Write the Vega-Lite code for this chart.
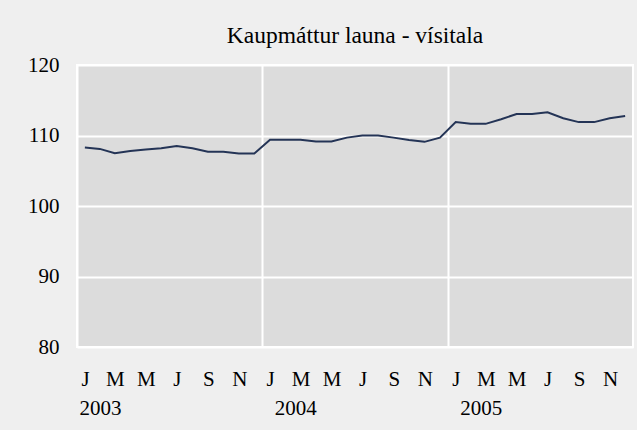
{
  "$schema": "https://vega.github.io/schema/vega-lite/v6.json",
  "autosize": {"type": "none"},
  "padding": {"left": 77, "top": 65, "right": 4, "bottom": 83},
  "width": 556,
  "height": 282,
  "background": "#efefef",
  "title": {
    "text": "Kaupmáttur launa - vísitala",
    "font": "Liberation Serif",
    "fontSize": 23.5,
    "fontWeight": "normal",
    "color": "#000000",
    "anchor": "middle",
    "baseline": "alphabetic",
    "offset": -12
  },
  "config": {
    "view": {"fill": "#dcdcdc", "stroke": "#ffffff", "strokeWidth": 2},
    "axis": {"labelFont": "Liberation Serif", "labelFontSize": 21, "labelColor": "#000000", "ticks": false, "domain": false, "title": null}
  },
  "data": {
    "values": [
      {"month": "2003-01", "value": 108.3},
      {"month": "2003-02", "value": 108.1},
      {"month": "2003-03", "value": 107.5},
      {"month": "2003-04", "value": 107.8},
      {"month": "2003-05", "value": 108.0},
      {"month": "2003-06", "value": 108.2},
      {"month": "2003-07", "value": 108.5},
      {"month": "2003-08", "value": 108.2},
      {"month": "2003-09", "value": 107.7},
      {"month": "2003-10", "value": 107.7},
      {"month": "2003-11", "value": 107.45},
      {"month": "2003-12", "value": 107.45},
      {"month": "2004-01", "value": 109.4},
      {"month": "2004-02", "value": 109.4},
      {"month": "2004-03", "value": 109.4},
      {"month": "2004-04", "value": 109.15},
      {"month": "2004-05", "value": 109.15},
      {"month": "2004-06", "value": 109.7},
      {"month": "2004-07", "value": 110.0},
      {"month": "2004-08", "value": 110.0},
      {"month": "2004-09", "value": 109.7},
      {"month": "2004-10", "value": 109.35},
      {"month": "2004-11", "value": 109.1},
      {"month": "2004-12", "value": 109.7},
      {"month": "2005-01", "value": 111.9},
      {"month": "2005-02", "value": 111.65},
      {"month": "2005-03", "value": 111.65},
      {"month": "2005-04", "value": 112.3},
      {"month": "2005-05", "value": 113.05},
      {"month": "2005-06", "value": 113.05},
      {"month": "2005-07", "value": 113.3},
      {"month": "2005-08", "value": 112.45},
      {"month": "2005-09", "value": 111.9},
      {"month": "2005-10", "value": 111.9},
      {"month": "2005-11", "value": 112.45},
      {"month": "2005-12", "value": 112.75}
    ]
  },
  "encoding": {
    "y": {
      "field": "value",
      "type": "quantitative",
      "scale": {"domain": [80, 120], "nice": false, "zero": false},
      "axis": {"values": [80, 90, 100, 110, 120], "grid": true, "gridColor": "#ffffff", "gridWidth": 2, "gridOpacity": 1, "labelPadding": 18}
    }
  },
  "layer": [
    {
      "mark": {"type": "point", "opacity": 0},
      "encoding": {
        "x": {
          "field": "month",
          "type": "temporal",
          "timeUnit": "utcyearmonth",
          "bandPosition": 0.5,
          "scale": {"domain": [{"year": 2003, "month": 1, "date": 1, "utc": true}, {"year": 2006, "month": 1, "date": 1, "utc": true}]},
          "axis": {
            "orient": "bottom",
            "values": [
              {"year": 2003, "month": 1, "date": 1, "utc": true},
              {"year": 2004, "month": 1, "date": 1, "utc": true},
              {"year": 2005, "month": 1, "date": 1, "utc": true}
            ],
            "grid": true,
            "gridColor": "#ffffff",
            "gridWidth": 2,
            "gridOpacity": 1,
            "labelExpr": "utcFormat(datum.value, '%Y')",
            "labelAlign": "left",
            "labelBaseline": "alphabetic",
            "labelPadding": 67,
            "labelOffset": {"condition": {"test": "utcyear(datum.value) == 2003", "value": 2}, "value": 12},
            "labelOverlap": false,
            "labelFlush": false
          }
        }
      }
    },
    {
      "mark": {"type": "line", "color": "#243456", "strokeWidth": 2},
      "encoding": {
        "x": {
          "field": "month",
          "type": "temporal",
          "timeUnit": "utcyearmonth",
          "bandPosition": 0.5,
          "axis": {
            "orient": "bottom",
            "values": [
              {"year": 2003, "month": 1, "date": 1, "utc": true},
              {"year": 2003, "month": 3, "date": 1, "utc": true},
              {"year": 2003, "month": 5, "date": 1, "utc": true},
              {"year": 2003, "month": 7, "date": 1, "utc": true},
              {"year": 2003, "month": 9, "date": 1, "utc": true},
              {"year": 2003, "month": 11, "date": 1, "utc": true},
              {"year": 2004, "month": 1, "date": 1, "utc": true},
              {"year": 2004, "month": 3, "date": 1, "utc": true},
              {"year": 2004, "month": 5, "date": 1, "utc": true},
              {"year": 2004, "month": 7, "date": 1, "utc": true},
              {"year": 2004, "month": 9, "date": 1, "utc": true},
              {"year": 2004, "month": 11, "date": 1, "utc": true},
              {"year": 2005, "month": 1, "date": 1, "utc": true},
              {"year": 2005, "month": 3, "date": 1, "utc": true},
              {"year": 2005, "month": 5, "date": 1, "utc": true},
              {"year": 2005, "month": 7, "date": 1, "utc": true},
              {"year": 2005, "month": 9, "date": 1, "utc": true},
              {"year": 2005, "month": 11, "date": 1, "utc": true}
            ],
            "grid": false,
            "labelExpr": "slice(utcFormat(datum.value, '%b'), 0, 1)",
            "labelAlign": "center",
            "labelBaseline": "alphabetic",
            "labelPadding": 38,
            "labelOffset": 8,
            "labelOverlap": false,
            "labelFlush": false
          }
        }
      }
    }
  ],
  "resolve": {"axis": {"x": "independent"}}
}
